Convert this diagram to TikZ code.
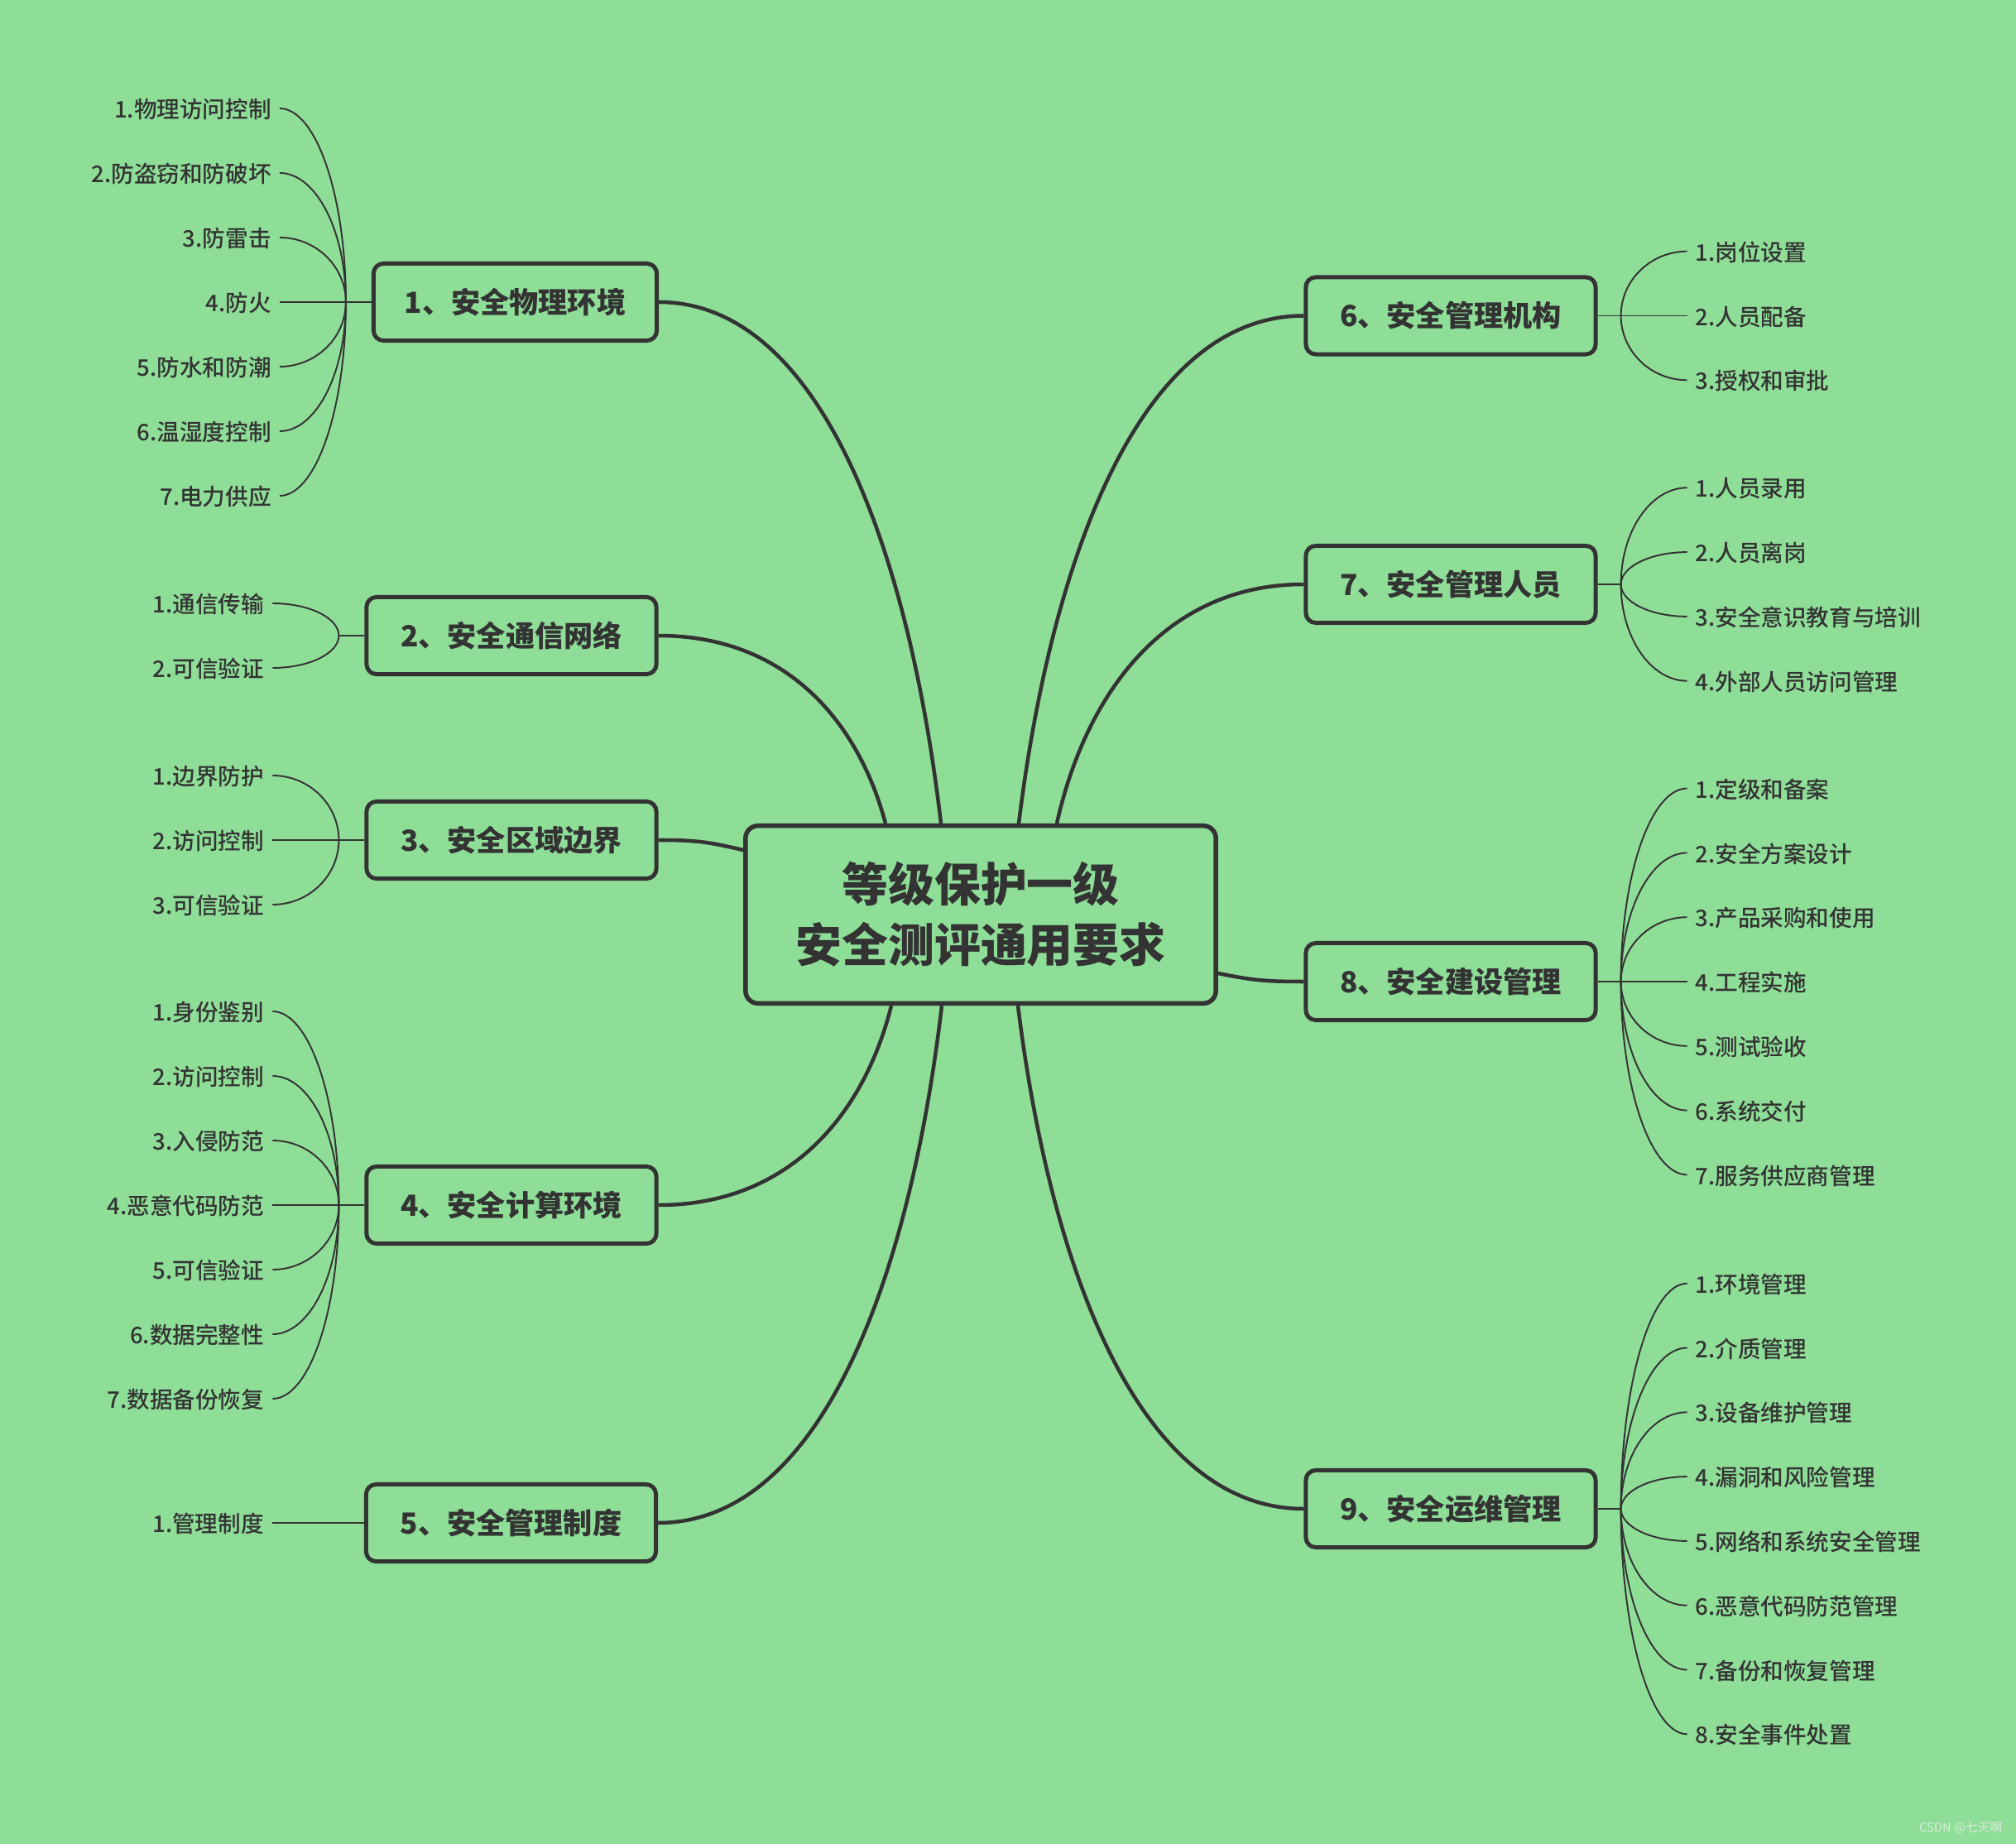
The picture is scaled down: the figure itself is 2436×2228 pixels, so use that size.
\documentclass[tikz,border=0pt]{standalone}
\usepackage{fontspec}
\setmainfont{Noto Sans CJK SC}
\newfontfamily\leaffam{Noto Sans CJK SC}[UprightFont=* Medium]
\usetikzlibrary{calc}
\definecolor{bg}{RGB}{143,222,152}
\definecolor{ink}{RGB}{51,51,51}
\definecolor{wmc}{RGB}{222,234,222}
\begin{document}
\begin{tikzpicture}[x=0.01cm,y=-0.01cm,
  centerbox/.style={draw=ink,line width=1.56pt,rounded corners=4.3pt,fill=bg,
    minimum width=5.68cm,minimum height=2.145cm,align=center,text=ink,
    font=\fontsize{15.9pt}{20.8pt}\selectfont\bfseries,inner sep=0pt},
  branchbox/.style={draw=ink,line width=1.42pt,rounded corners=3.4pt,fill=bg,
    minimum width=3.5cm,minimum height=0.93cm,text=ink,
    font=\fontsize{10pt}{12pt}\selectfont\bfseries,inner sep=0pt},
  leafL/.style={anchor=east,inner xsep=2.7pt,inner ysep=0pt,text=ink,
    font=\leaffam\fontsize{7.85pt}{10pt}\selectfont,text height=0.82em,text depth=0.16em},
  leafR/.style={anchor=west,inner xsep=2.6pt,inner ysep=0pt,text=ink,
    font=\leaffam\fontsize{7.85pt}{10pt}\selectfont,text height=0.82em,text depth=0.16em},
  mainline/.style={draw=ink,line width=1.28pt},
  leafline/.style={draw=ink,line width=0.55pt},
]
\useasboundingbox[fill=bg] (0,0) rectangle (2436,2228);

% central topic
\node[centerbox] (c) at (1185,1105) {等级保护一级\\安全测评通用要求};

% main branches
\node[branchbox,minimum width=3.42cm] (b1) at (622.5,365) {1、安全物理环境};
\node[branchbox] (b2) at (618,768) {2、安全通信网络};
\node[branchbox] (b3) at (618,1015) {3、安全区域边界};
\node[branchbox] (b4) at (618,1456) {4、安全计算环境};
\node[branchbox] (b5) at (617.5,1840) {5、安全管理制度};
\node[branchbox] (b6) at (1753,381.5) {6、安全管理机构};
\node[branchbox] (b7) at (1753,706) {7、安全管理人员};
\node[branchbox] (b8) at (1753,1186) {8、安全建设管理};
\node[branchbox] (b9) at (1753,1823) {9、安全运维管理};

% attachment points on the central topic
\coordinate (ct1) at ($(c.north)+(-48,0)$);
\coordinate (ct2) at ($(c.north)+(-115,0)$);
\coordinate (ct6) at ($(c.north)+(46,0)$);
\coordinate (ct7) at ($(c.north)+(92,0)$);
\coordinate (cb4) at ($(c.south)+(-108,0)$);
\coordinate (cb5) at ($(c.south)+(-47,0)$);
\coordinate (cb9) at ($(c.south)+(45,0)$);
\coordinate (cl3) at ($(c.west)+(0,-78)$);
\coordinate (cr8) at ($(c.east)+(0,71)$);

% main connectors
\draw[mainline] (b1.east) .. controls +(194,0) and +(-39,-333) .. (ct1);
\draw[mainline] (b2.east) .. controls +(157,0) and +(-32,-120) .. (ct2);
\draw[mainline] (b3.east) .. controls +(50,0) and +(-40,-9) .. (cl3);
\draw[mainline] (b4.east) .. controls +(161,0) and +(-32,128) .. (cb4);
\draw[mainline] (b5.east) .. controls +(196,0) and +(-39,332) .. (cb5);
\draw[mainline] (ct6) .. controls +(40,-325) and +(-196,0) .. (b6.west);
\draw[mainline] (ct7) .. controls +(34,-153) and +(-170,0) .. (b7.west);
\draw[mainline] (cr8) .. controls +(40,8) and +(-50,0) .. (b8.west);
\draw[mainline] (cb9) .. controls +(40,323) and +(-197,0) .. (b9.west);

% junctions
\coordinate (j1) at ($(b1.west)+(-31,0)$);
\coordinate (j2) at ($(b2.west)+(-31,0)$);
\coordinate (j3) at ($(b3.west)+(-31,0)$);
\coordinate (j4) at ($(b4.west)+(-31,0)$);
\coordinate (j6) at ($(b6.east)+(28,0)$);
\coordinate (j7) at ($(b7.east)+(28,0)$);
\coordinate (j8) at ($(b8.east)+(28,0)$);
\coordinate (j9) at ($(b9.east)+(28,0)$);
\foreach \b in {1,2,3,4} {\draw[leafline] (b\b.west) -- (j\b);}
\foreach \b in {6,7,8,9} {\draw[leafline] (b\b.east) -- (j\b);}

% left leaves
\foreach \t [count=\i] in {1.物理访问控制,2.防盗窃和防破坏,3.防雷击,4.防火,5.防水和防潮,6.温湿度控制,7.电力供应} {
  \node[leafL] (l1-\i) at ($(j1)+(-80,{78*(\i-4)})$) {\t};
  \draw[leafline] (j1) .. controls +(0,{42.9*(\i-4)}) and +(44,0) .. (l1-\i.east);
}
\foreach \t [count=\i] in {1.通信传输,2.可信验证} {
  \node[leafL] (l2-\i) at ($(j2)+(-80,{78*(\i-1.5)})$) {\t};
  \draw[leafline] (j2) .. controls +(0,{42.9*(\i-1.5)}) and +(44,0) .. (l2-\i.east);
}
\foreach \t [count=\i] in {1.边界防护,2.访问控制,3.可信验证} {
  \node[leafL] (l3-\i) at ($(j3)+(-80,{78*(\i-2)})$) {\t};
  \draw[leafline] (j3) .. controls +(0,{42.9*(\i-2)}) and +(44,0) .. (l3-\i.east);
}
\foreach \t [count=\i] in {1.身份鉴别,2.访问控制,3.入侵防范,4.恶意代码防范,5.可信验证,6.数据完整性,7.数据备份恢复} {
  \node[leafL] (l4-\i) at ($(j4)+(-80,{78*(\i-4)})$) {\t};
  \draw[leafline] (j4) .. controls +(0,{42.9*(\i-4)}) and +(44,0) .. (l4-\i.east);
}
\node[leafL] (l5-1) at ($(b5.west)+(-111,0)$) {1.管理制度};
\draw[leafline] (b5.west) -- (l5-1.east);

% right leaves
\foreach \t [count=\i] in {1.岗位设置,2.人员配备,3.授权和审批} {
  \node[leafR] (l6-\i) at ($(j6)+(80,{77.8*(\i-2)})$) {\t};
  \draw[leafline] (j6) .. controls +(0,{42.8*(\i-2)}) and +(-44,0) .. (l6-\i.west);
}
\foreach \t [count=\i] in {1.人员录用,2.人员离岗,3.安全意识教育与培训,4.外部人员访问管理} {
  \node[leafR] (l7-\i) at ($(j7)+(80,{77.8*(\i-2.5)})$) {\t};
  \draw[leafline] (j7) .. controls +(0,{42.8*(\i-2.5)}) and +(-44,0) .. (l7-\i.west);
}
\foreach \t [count=\i] in {1.定级和备案,2.安全方案设计,3.产品采购和使用,4.工程实施,5.测试验收,6.系统交付,7.服务供应商管理} {
  \node[leafR] (l8-\i) at ($(j8)+(80,{77.8*(\i-4)})$) {\t};
  \draw[leafline] (j8) .. controls +(0,{42.8*(\i-4)}) and +(-44,0) .. (l8-\i.west);
}
\foreach \t [count=\i] in {1.环境管理,2.介质管理,3.设备维护管理,4.漏洞和风险管理,5.网络和系统安全管理,6.恶意代码防范管理,7.备份和恢复管理,8.安全事件处置} {
  \node[leafR] (l9-\i) at ($(j9)+(80,{77.8*(\i-4.5)})$) {\t};
  \draw[leafline] (j9) .. controls +(0,{42.8*(\i-4.5)}) and +(-44,0) .. (l9-\i.west);
}

% watermark
\node[anchor=east,inner sep=0pt,text=wmc,font=\fontsize{4.2pt}{5pt}\selectfont] (wm) at (2420,2209) {CSDN @七天啊};
\end{tikzpicture}
\end{document}
